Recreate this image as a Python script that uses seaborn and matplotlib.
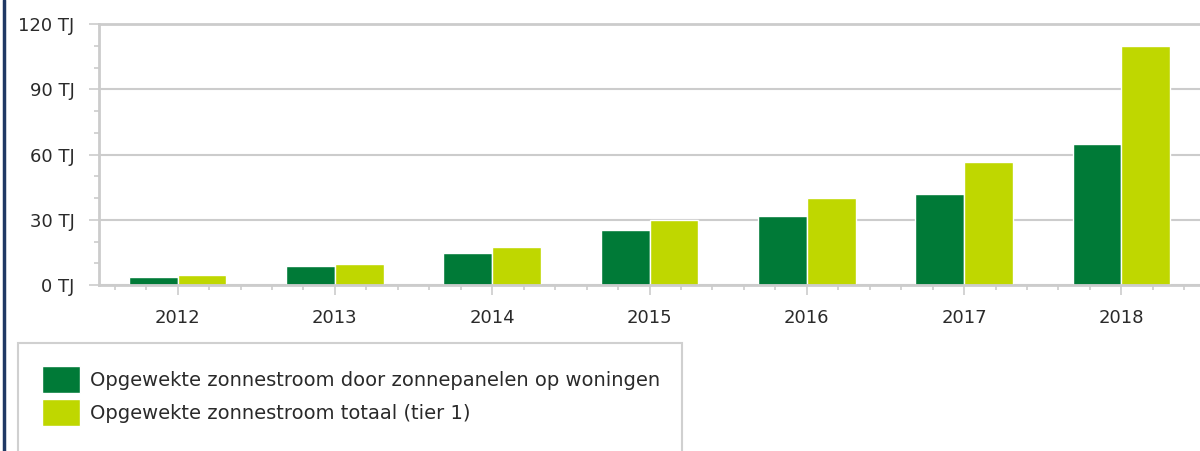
import numpy as np
import pandas as pd
import matplotlib.pyplot as plt
import seaborn as sns
from matplotlib.patches import Rectangle
from matplotlib.lines import Line2D
from matplotlib.ticker import MultipleLocator, FuncFormatter

jaren = ['2012', '2013', '2014', '2015', '2016', '2017', '2018']
woningen = [3.8, 8.6, 14.9, 25.2, 31.7, 41.9, 64.9]
totaal = [4.8, 9.7, 17.7, 29.7, 39.8, 56.4, 110.0]
reeksen = ['Opgewekte zonnestroom door zonnepanelen op woningen',
           'Opgewekte zonnestroom totaal (tier 1)']

df = pd.DataFrame({
    'jaar': jaren * 2,
    'TJ': woningen + totaal,
    'reeks': [reeksen[0]] * len(jaren) + [reeksen[1]] * len(jaren),
})

sns.set_style('white')
plt.rcParams['font.family'] = ['DejaVu Sans']

fig = plt.figure(figsize=(12, 4.51), dpi=100)
ax = fig.add_axes([99 / 1200, 1 - 285 / 451, 1 - 99 / 1200, (285 - 24) / 451])

sns.barplot(data=df, x='jaar', y='TJ', hue='reeks', palette=['#007A37', '#BFD700'],
            saturation=1, width=0.62, edgecolor='white', linewidth=1, ax=ax, legend=True)

grid_c = '#CCCCCC'
ax.set_ylim(0, 120)
ax.set_xlim(-0.5, 6.5)
ax.yaxis.set_major_locator(MultipleLocator(30))
ax.yaxis.set_minor_locator(MultipleLocator(10))
ax.yaxis.set_major_formatter(FuncFormatter(lambda v, p: f'{int(v)} TJ'))
ax.xaxis.set_minor_locator(MultipleLocator(0.2))
ax.grid(axis='y', color=grid_c, linewidth=1.5)
ax.set_axisbelow(True)
ax.tick_params(axis='both', which='major', length=7.5, width=1.2, color=grid_c,
               labelsize=13, labelcolor='#2A2A2A')
ax.tick_params(axis='y', which='major', pad=10)
ax.tick_params(axis='x', which='major', pad=10)
ax.tick_params(axis='both', which='minor', length=3.5, width=1.2, color=grid_c)
ax.tick_params(axis='both', which='both', bottom=True, left=True)
ax.set_xlabel('')
ax.set_ylabel('')
for s in ['left', 'bottom', 'top']:
    ax.spines[s].set_color(grid_c)
    ax.spines[s].set_linewidth(2)
ax.spines['right'].set_visible(False)

handles, labels = ax.get_legend_handles_labels()
ax.get_legend().remove()

# legend box
fig.add_artist(Rectangle((18 / 1200, -0.05), (682 - 18) / 1200, 0.05 + 1 - 343 / 451,
                         transform=fig.transFigure, facecolor='white',
                         edgecolor='#D0D0D0', linewidth=1.5))
fig.legend(handles, labels, loc='upper left', bbox_to_anchor=(42 / 1200, 1 - 366 / 451),
           frameon=False, fontsize=14, handlelength=1.95, handleheight=1.76,
           handletextpad=0.5, labelspacing=0.3, borderpad=0, borderaxespad=0,
           labelcolor='#2A2A2A')

fig.add_artist(Line2D([4 / 1200, 4 / 1200], [0, 1], transform=fig.transFigure,
                      color='#1F3864', linewidth=2.5))

fig.savefig('out.png', dpi=100)
